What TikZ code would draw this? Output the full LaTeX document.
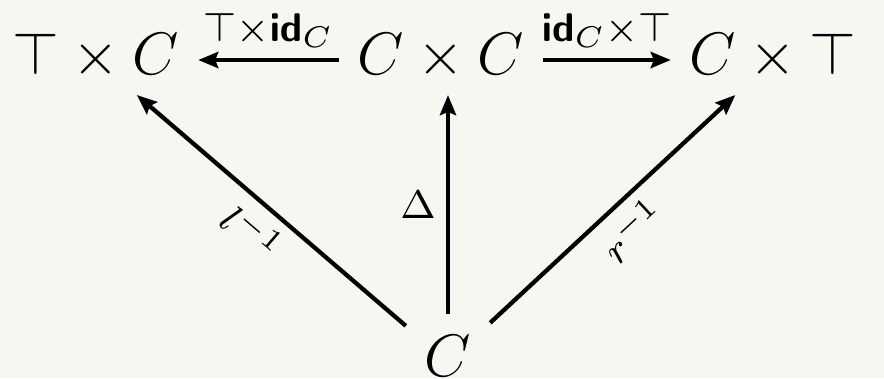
\documentclass[tikz,border=0pt]{standalone}
\usetikzlibrary{arrows.meta}
\DeclareMathAlphabet{\mathsfbf}{OT1}{cmss}{bx}{n}
\definecolor{bgc}{RGB}{247,247,242}
\begin{document}
\begin{tikzpicture}[x=0.2pt,y=-0.2pt,
  cell/.style={anchor=base, inner xsep=3.6pt, inner ysep=4pt, text height=5.6pt, text depth=0pt, font=\fontsize{12}{14}\selectfont},
  arr/.style={line width=0.85pt, -{Stealth[length=4pt,width=3.2pt,inset=0.6pt]}},
  lab/.style={font=\fontsize{12}{14}\selectfont, inner sep=2pt}]
\fill[bgc] (0,0) rectangle (884,378);
\useasboundingbox (0,0) rectangle (884,378);
\node[cell] (L) at (96,74) {$\top\times C$};
\node[cell] (M) at (441,74) {$C\times C$};
\node[cell] (R) at (773,74) {$C\times\top$};
\node[cell, text height=8.2pt, text depth=2.6pt] (B) at (448,376) {$C$};
\draw[arr] (M) -- node[lab, above]{$\scriptstyle\top\times\mathsfbf{id}_C$} (L);
\draw[arr] (M) -- node[lab, above]{$\scriptstyle\mathsfbf{id}_C\times\top$} (R);
\draw[arr] (B.north) -- node[lab, left]{$\scriptstyle\Delta$} (B.north |- M.south);
\draw[arr] (B) -- node[lab, sloped, below]{$\scriptstyle l^{-1}$} (L);
\draw[arr] (B) -- node[lab, sloped, below]{$\scriptstyle r^{-1}$} (R);
\end{tikzpicture}
\end{document}
